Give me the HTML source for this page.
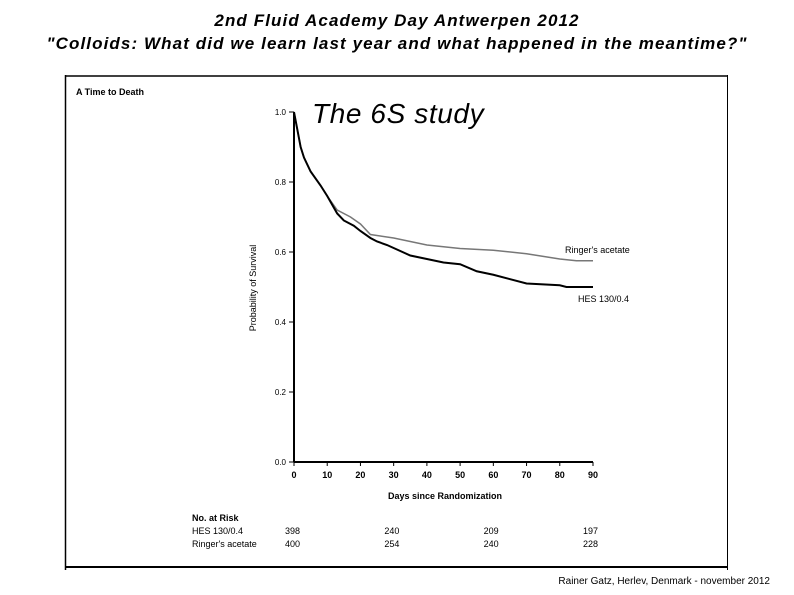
<!DOCTYPE html>
<html><head><meta charset="utf-8"><style>
body{margin:0;width:794px;height:595px;background:#fff;overflow:hidden;font-family:"Liberation Sans",sans-serif;}
.t{position:absolute;white-space:nowrap;}
</style></head><body>
<div class="t" style="left:0;width:794px;text-align:center;top:11px;font-size:17px;font-weight:bold;font-style:italic;letter-spacing:1.1px;">2nd Fluid Academy Day Antwerpen 2012</div>
<div class="t" style="left:0;width:794px;text-align:center;top:34px;font-size:17px;font-weight:bold;font-style:italic;letter-spacing:1.1px;">"Colloids: What did we learn last year and what happened in the meantime?"</div>
<svg width="794" height="595" style="position:absolute;left:0;top:0">
<line x1="65.5" y1="75" x2="65.5" y2="570" stroke="#000" stroke-width="1.5"/>
<line x1="65" y1="76" x2="728" y2="76" stroke="#000" stroke-width="1.5"/>
<line x1="727.5" y1="75" x2="727.5" y2="570" stroke="#000" stroke-width="1"/>
<line x1="65" y1="567" x2="728" y2="567" stroke="#000" stroke-width="2"/>
<text x="76" y="95" font-size="9" font-weight="bold">A  Time to Death</text>
<text x="312" y="123" font-size="28" font-style="italic" letter-spacing="0.6">The 6S study</text>
<g id="axes"></g>
<g id="lines"></g>
<text x="445" y="499" font-size="9" font-weight="bold" text-anchor="middle">Days since Randomization</text>
<text transform="translate(256,288) rotate(-90)" font-size="9" text-anchor="middle">Probability of Survival</text>
<text x="565" y="253" font-size="9">Ringer's acetate</text>
<text x="578" y="302" font-size="9">HES 130/0.4</text>
<text x="192" y="521" font-size="9" font-weight="bold">No. at Risk</text>
<text x="192" y="534" font-size="9">HES 130/0.4</text>
<text x="192" y="547" font-size="9">Ringer's acetate</text>
<g id="risk"></g>
<text x="770" y="584" font-size="10" text-anchor="end">Rainer Gatz, Herlev, Denmark - november 2012</text>
</svg>
<script>
const xTicks=[0,10,20,30,40,50,60,70,80,90];
const yTicks=[0.0,0.2,0.4,0.6,0.8,1.0];
const ringerDays=[0,1,2,3,5,8,10,13,17,20,23,30,40,50,60,70,80,85,90];
const ringerSurv=[1.0,0.95,0.9,0.87,0.83,0.79,0.76,0.72,0.70,0.68,0.65,0.64,0.62,0.61,0.605,0.595,0.58,0.575,0.575];
const hesDays=[0,1,2,3,5,8,10,13,15,18,20,23,25,28,35,40,45,50,55,60,70,80,82,90];
const hesSurv=[1.0,0.95,0.9,0.87,0.83,0.79,0.76,0.71,0.69,0.675,0.66,0.64,0.63,0.62,0.59,0.58,0.57,0.565,0.545,0.535,0.51,0.505,0.50,0.50];
const riskDays=[0,30,60,90];
const riskHes=[398,240,209,197];
const riskRinger=[400,254,240,228];
const NS="http://www.w3.org/2000/svg";
const X=d=>294+d*(593-294)/90, Y=v=>462-v*350;
function mk(t,a,p){const e=document.createElementNS(NS,t);for(const k in a)e.setAttribute(k,a[k]);p.appendChild(e);return e;}
const ax=document.getElementById('axes');
let e=mk('line',{x1:X(0),y1:Y(1),x2:X(0),y2:Y(0),stroke:'#000','stroke-width':2},ax);


e=mk('line',{x1:X(0),y1:Y(0),x2:X(90),y2:Y(0),stroke:'#000','stroke-width':2},ax);


xTicks.forEach(d=>{mk('line',{x1:X(d),y1:Y(0),x2:X(d),y2:Y(0)+4,stroke:'#000'},ax);
const t=mk('text',{x:X(d),y:Y(0)+16,'font-size':9,'font-weight':'bold','text-anchor':'middle'},ax);t.textContent=d;

});
yTicks.forEach(v=>{mk('line',{x1:X(0)-5,y1:Y(v),x2:X(0),y2:Y(v),stroke:'#000'},ax);
const t=mk('text',{x:X(0)-8,y:Y(v)+3,'font-size':8,'text-anchor':'end'},ax);t.textContent=v.toFixed(1);

});
const ln=document.getElementById('lines');
function path(ds,vs,col,w,name){const p=mk('polyline',{points:ds.map((d,i)=>X(d)+','+Y(vs[i])).join(' '),fill:'none',stroke:col,'stroke-width':w},ln);

}
path(ringerDays,ringerSurv,'#777',1.5,'ringers-curve');
path(hesDays,hesSurv,'#000',2,'hes-curve');
const rk=document.getElementById('risk');
riskDays.forEach((d,i)=>{const rx=285+d*(583-285)/90;
let t=mk('text',{x:rx,y:534,'font-size':9},rk);t.textContent=riskHes[i];


t=mk('text',{x:rx,y:547,'font-size':9},rk);t.textContent=riskRinger[i];

});
</script>
</body></html>
